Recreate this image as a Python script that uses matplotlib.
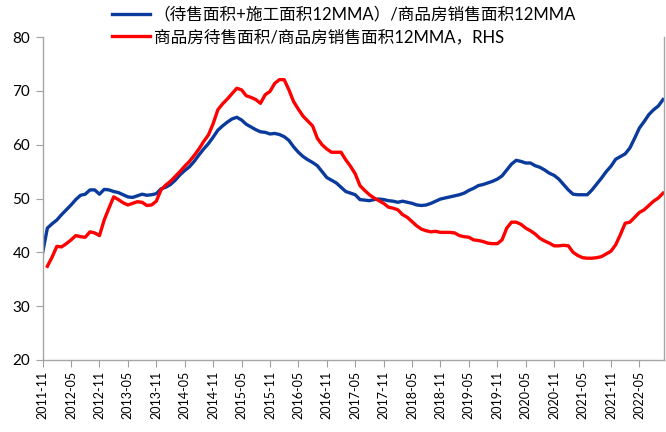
import numpy as np
import pandas as pd
import matplotlib
matplotlib.use('Agg')
import matplotlib.pyplot as plt

# monthly data, 2011-11 .. 2022-10
start_month = '2011-11'
blue_vals = [
    39.9, 44.5, 45.3, 46.0, 47.0, 47.9, 48.8, 49.8, 50.6, 50.8,
    51.6, 51.6, 50.8, 51.7, 51.6, 51.3, 51.1, 50.7, 50.3, 50.2,
    50.5, 50.8, 50.6, 50.7, 50.9, 51.8, 52.1, 52.6, 53.4, 54.4,
    55.2, 55.9, 56.9, 58.1, 59.2, 60.2, 61.4, 62.7, 63.5, 64.2,
    64.8, 65.1, 64.6, 63.8, 63.3, 62.8, 62.4, 62.3, 62.0, 62.1,
    61.9, 61.5, 60.8, 59.6, 58.6, 57.8, 57.2, 56.7, 56.1, 55.0,
    53.9, 53.4, 52.9, 52.1,
    51.3, 51.0, 50.7, 49.8, 49.7, 49.6, 49.8, 49.9, 49.8, 49.6,
    49.5, 49.3, 49.5, 49.3, 49.1, 48.8, 48.7, 48.8, 49.1, 49.5,
    49.9, 50.1, 50.3, 50.5, 50.7, 51.0, 51.5, 51.9, 52.4, 52.6,
    52.9, 53.2, 53.6, 54.2, 55.3, 56.4, 57.1, 56.9, 56.6, 56.6,
    56.1, 55.8, 55.3, 54.7, 54.3, 53.6, 52.6, 51.6, 50.8, 50.7,
    50.7, 50.7, 51.6, 52.7, 53.8, 55.0, 56.0, 57.3, 57.8, 58.3,
    59.4, 61.2, 63.1, 64.3, 65.6, 66.5, 67.2, 68.4,
]
red_vals = [
    np.nan, 37.4, 39.1, 41.1, 41.0, 41.6, 42.3, 43.1, 42.9, 42.8,
    43.8, 43.6, 43.1, 46.0, 48.2, 50.3, 49.8, 49.2, 48.8, 49.1,
    49.4, 49.3, 48.7, 48.8, 49.5, 51.6, 52.5, 53.2, 54.1, 55.0,
    56.0, 56.9, 58.0, 59.2, 60.6, 61.8, 63.9, 66.5, 67.6, 68.5,
    69.5, 70.5, 70.2, 69.1, 68.8, 68.4, 67.7, 69.3, 69.9, 71.4,
    72.1, 72.1, 70.2, 68.0, 66.6, 65.3, 64.4, 63.5, 61.2, 60.0,
    59.2, 58.6, 58.6, 58.6,
    57.2, 56.0, 54.6, 52.4, 51.5, 50.7, 50.1, 49.6, 49.1, 48.4,
    48.2, 47.9, 47.0, 46.5, 45.7, 44.9, 44.3, 44.0, 43.8, 43.9,
    43.7, 43.7, 43.7, 43.6, 43.1, 42.9, 42.8, 42.3, 42.2, 42.0,
    41.7, 41.6, 41.6, 42.3, 44.5, 45.6, 45.6, 45.2, 44.5, 44.0,
    43.4, 42.6, 42.1, 41.7, 41.2, 41.2, 41.3, 41.2, 40.0, 39.4,
    39.0, 38.9, 38.9, 39.0, 39.2, 39.7, 40.2, 41.4, 43.3, 45.4,
    45.6, 46.5, 47.4, 47.9, 48.7, 49.5, 50.1, 51.0,
]
blue_label = '（待售面积+施工面积12MMA）/商品房销售面积12MMA'
red_label = '商品房待售面积/商品房销售面积12MMA，RHS'
y_ticks = [20, 30, 40, 50, 60, 70, 80]

months = pd.period_range(start_month, periods=len(blue_vals), freq='M')
x = np.arange(len(months))
tick_pos = x[::6]
tick_labels = [m.strftime('%Y-%m') for m in months[::6]]

plt.rcParams['font.family'] = ['Lato', 'Noto Sans CJK SC', 'DejaVu Sans']

fig = plt.figure(figsize=(6.66, 4.32), dpi=100)
ax = fig.add_axes([0.064, 0.167, 0.933, 0.747])

ax.plot(x, blue_vals, color='#0a3a9c', lw=2.4, label=blue_label)
ax.plot(x, red_vals, color='#ff0000', lw=2.4, label=red_label)

ax.set_xlim(0, 131.2)
ax.set_ylim(20, 80)
ax.set_yticks(y_ticks)
ax.set_xticks(tick_pos)
ax.set_xticklabels(tick_labels, rotation=90, fontsize=9)
ax.tick_params(axis='y', labelsize=11, length=5, color='#a0a0a0', pad=4)
ax.tick_params(axis='x', length=5, color='#a0a0a0', pad=3)

for side in ['left', 'bottom', 'right']:
    ax.spines[side].set_color('#a6a6a6')
    ax.spines[side].set_linewidth(1.0)
ax.spines['top'].set_visible(False)

fig.legend(loc='upper left', bbox_to_anchor=(0.158, 1.0), frameon=False,
           fontsize=12, handlelength=2.3, handletextpad=0.2, labelspacing=0.4,
           borderaxespad=0)

fig.savefig('out.png', dpi=100)
